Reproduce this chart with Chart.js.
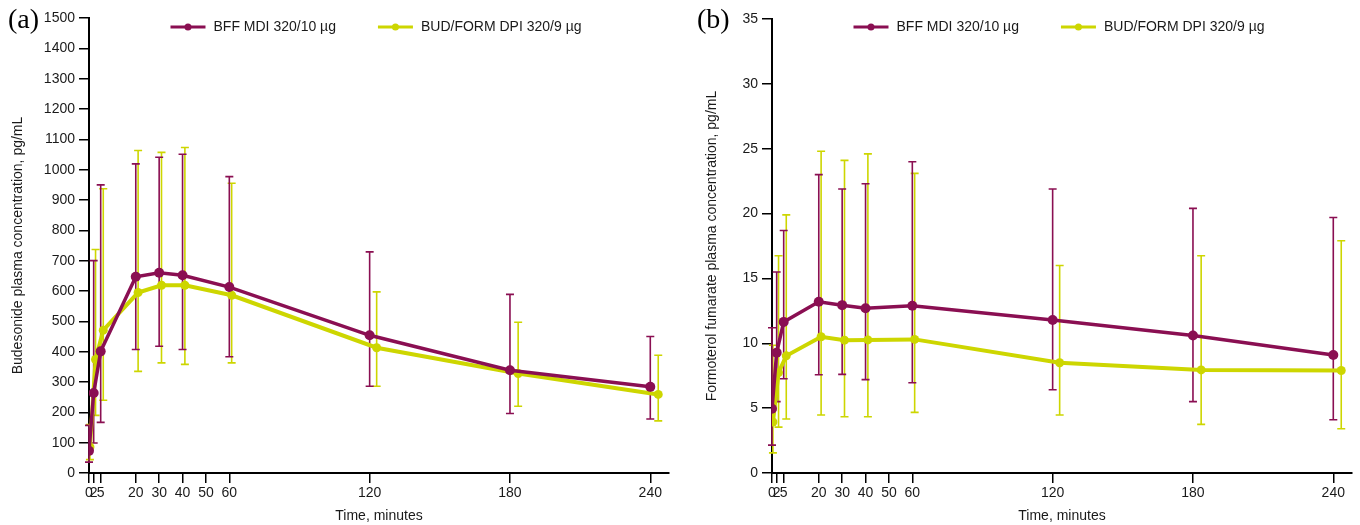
<!DOCTYPE html>
<html>
<head>
<meta charset="utf-8">
<script src="https://cdn.jsdelivr.net/npm/chart.js@4.4.1/dist/chart.umd.min.js"></script>
<style>
  body { margin: 0; background: #fff; }
  .paineis { display: flex; width: 1360px; height: 525px; }
  canvas { display: block; }
</style>
</head>
<body>
<div class="paineis">
  <canvas id="graficoA" width="680" height="525"></canvas>
  <canvas id="graficoB" width="680" height="525"></canvas>
</div>
<script>
// Tempos de coleta (min); a série amarela vem levemente deslocada no original
const tempoBff = [0, 2, 5, 20, 30, 40, 60, 120, 180, 240];
const tempoBud = [0.4, 2.8, 6.1, 21, 31, 41, 61, 123, 183.5, 243.4];
const ticksTempo = [0, 2, 5, 20, 30, 40, 50, 60, 120, 180, 240];

const legendas = ['BFF MDI 320/10 µg', 'BUD/FORM DPI 320/9 µg'];

// Painel (a) budesonida, pg/mL
const budBffMedia = [73, 264, 401, 647, 660, 652, 613, 454, 339, 284];
const budBffBaixo = [36, 99, 167, 407, 418, 407, 383, 286, 196, 178];
const budBffAlto = [157, 700, 950, 1019, 1041, 1051, 977, 729, 589, 450];
const budBudMedia = [86, 374, 471, 595, 619, 619, 586, 413, 328, 259];
const budBudBaixo = [44, 190, 240, 335, 363, 358, 363, 286, 220, 172];
const budBudAlto = [160, 737, 937, 1063, 1057, 1073, 955, 597, 497, 388];

// Painel (b) formoterol, pg/mL
const formBffMedia = [4.95, 9.28, 11.65, 13.2, 12.94, 12.7, 12.9, 11.8, 10.6, 9.1];
const formBffBaixo = [2.15, 5.5, 7.27, 7.58, 7.6, 7.2, 6.96, 6.42, 5.5, 4.1];
const formBffAlto = [11.2, 15.5, 18.7, 23.0, 21.9, 22.3, 24.0, 21.9, 20.4, 19.7];
const formBudMedia = [3.93, 7.74, 9.03, 10.5, 10.24, 10.26, 10.3, 8.5, 7.95, 7.9];
const formBudBaixo = [1.55, 3.54, 4.16, 4.47, 4.34, 4.34, 4.67, 4.47, 3.75, 3.41];
const formBudAlto = [9.85, 16.75, 19.9, 24.8, 24.1, 24.6, 23.1, 16.0, 16.75, 17.9];

const COR_BFF = '#8a0f52';
const COR_BUD = '#cdd600';
const COR_TEXTO = '#1a1a1a';
const FONTE = '"Liberation Sans", Arial, Helvetica, sans-serif';

function montarPontos(tempos, media, baixo, alto) {
    return tempos.map(function (t, i) {
        return { x: t, y: media[i], lo: baixo[i], hi: alto[i] };
    });
}

// Barras de erro desenhadas com as escalas do próprio gráfico
const barrasErro = {
    id: 'barrasErro',
    beforeDatasetsDraw(chart) {
        const ctx = chart.ctx;
        const escX = chart.scales.x;
        const escY = chart.scales.y;
        ctx.save();
        for (let d = chart.data.datasets.length - 1; d >= 0; d--) {
            const ds = chart.data.datasets[d];
            ctx.strokeStyle = ds.borderColor;
            ctx.lineWidth = 1.6;
            ds.data.forEach(function (p) {
                const px = escX.getPixelForValue(p.x);
                const topo = escY.getPixelForValue(p.hi);
                const base = escY.getPixelForValue(p.lo);
                ctx.beginPath();
                ctx.moveTo(px, topo); ctx.lineTo(px, base);
                ctx.moveTo(px - 4, topo); ctx.lineTo(px + 4, topo);
                ctx.moveTo(px - 4, base); ctx.lineTo(px + 4, base);
                ctx.stroke();
            });
        }
        ctx.restore();
    }
};

// Legenda dentro da área do gráfico e letra do painel
const legendaTopo = {
    id: 'legendaTopo',
    afterDraw(chart, args, opts) {
        const ctx = chart.ctx;
        const area = chart.chartArea;
        ctx.save();
        ctx.font = '14px ' + FONTE;
        const larguras = chart.data.datasets.map(ds => ctx.measureText(ds.label).width);
        const total = 2 * (35 + 8) + larguras[0] + larguras[1] + 42;
        let x = (area.left + area.right) / 2 - total / 2 - 3;
        const yLeg = 27;
        chart.data.datasets.forEach(function (ds, i) {
            ctx.strokeStyle = ds.borderColor;
            ctx.lineWidth = 3;
            ctx.beginPath();
            ctx.moveTo(x, yLeg); ctx.lineTo(x + 35, yLeg);
            ctx.stroke();
            ctx.fillStyle = ds.borderColor;
            ctx.beginPath();
            ctx.arc(x + 17.5, yLeg, 3.5, 0, Math.PI * 2);
            ctx.fill();
            ctx.fillStyle = COR_TEXTO;
            ctx.textBaseline = 'middle';
            ctx.textAlign = 'left';
            ctx.fillText(ds.label, x + 43, yLeg);
            x += 43 + larguras[i] + 42;
        });
        ctx.font = '28px "Liberation Serif", "Times New Roman", serif';
        ctx.fillStyle = '#000';
        ctx.textBaseline = 'middle';
        ctx.fillText(opts.letra, opts.letraX, 21);
        ctx.restore();
    }
};

function criarPainel(idCanvas, cfg) {
    const contexto = document.getElementById(idCanvas).getContext('2d');
    return new Chart(contexto, {
        type: 'line',
        data: {
            datasets: [{
                label: legendas[0],
                data: montarPontos(tempoBff, cfg.bffMedia, cfg.bffBaixo, cfg.bffAlto),
                borderColor: COR_BFF,
                backgroundColor: COR_BFF,
                borderWidth: 3.5,
                pointRadius: 5,
                pointBorderWidth: 0,
                tension: 0
            }, {
                label: legendas[1],
                data: montarPontos(tempoBud, cfg.budMedia, cfg.budBaixo, cfg.budAlto),
                borderColor: COR_BUD,
                backgroundColor: COR_BUD,
                borderWidth: 4,
                pointRadius: 4.5,
                pointBorderWidth: 0,
                tension: 0
            }]
        },
        plugins: [barrasErro, legendaTopo],
        options: {
            responsive: false,
            animation: false,
            layout: { padding: { left: 0, right: cfg.dir, top: cfg.topo, bottom: 0 } },
            plugins: {
                legend: { display: false },
                tooltip: { enabled: false },
                legendaTopo: { letra: cfg.letra, letraX: cfg.letraX }
            },
            scales: {
                x: {
                    type: 'linear',
                    min: 0,
                    max: 248,
                    afterBuildTicks: function (esc) {
                        esc.ticks = ticksTempo.map(v => ({ value: v }));
                    },
                    afterFit: function (esc) { esc.height = 52; },
                    ticks: {
                        autoSkip: false, maxRotation: 0, padding: 2, color: COR_TEXTO,
                        font: { family: FONTE, size: 14 },
                        callback: v => String(v)
                    },
                    grid: { drawOnChartArea: false, drawTicks: true, tickLength: 10, color: '#000', lineWidth: 1.5 },
                    border: { color: '#000', width: 2 },
                    title: { display: true, text: 'Time, minutes', color: COR_TEXTO, padding: 0, font: { family: FONTE, size: 14 } }
                },
                y: {
                    min: 0,
                    max: cfg.yMax,
                    afterFit: function (esc) { esc.width = cfg.esq; },
                    ticks: {
                        stepSize: cfg.passo, padding: 4, color: COR_TEXTO,
                        font: { family: FONTE, size: 14 },
                        callback: v => String(v)
                    },
                    grid: { drawOnChartArea: false, drawTicks: true, tickLength: 10, color: '#000', lineWidth: 1.5 },
                    border: { color: '#000', width: 2 },
                    title: { display: true, text: cfg.tituloY, color: COR_TEXTO, padding: { top: cfg.tituloPad, bottom: 0 }, font: { family: FONTE, size: 14 } }
                }
            }
        }
    });
}

criarPainel('graficoA', {
    bffMedia: budBffMedia, bffBaixo: budBffBaixo, bffAlto: budBffAlto,
    budMedia: budBudMedia, budBaixo: budBudBaixo, budAlto: budBudAlto,
    yMax: 1500, passo: 100,
    tituloY: 'Budesonide plasma concentration, pg/mL',
    esq: 89, dir: 11, topo: 18, tituloPad: 10,
    letra: '(a)', letraX: 8
});

criarPainel('graficoB', {
    bffMedia: formBffMedia, bffBaixo: formBffBaixo, bffAlto: formBffAlto,
    budMedia: formBudMedia, budBaixo: formBudBaixo, budAlto: formBudAlto,
    yMax: 35, passo: 5,
    tituloY: 'Formoterol fumarate plasma concentration, pg/mL',
    esq: 92, dir: 8, topo: 19, tituloPad: 24,
    letra: '(b)', letraX: 17
});
</script>
</body>
</html>
